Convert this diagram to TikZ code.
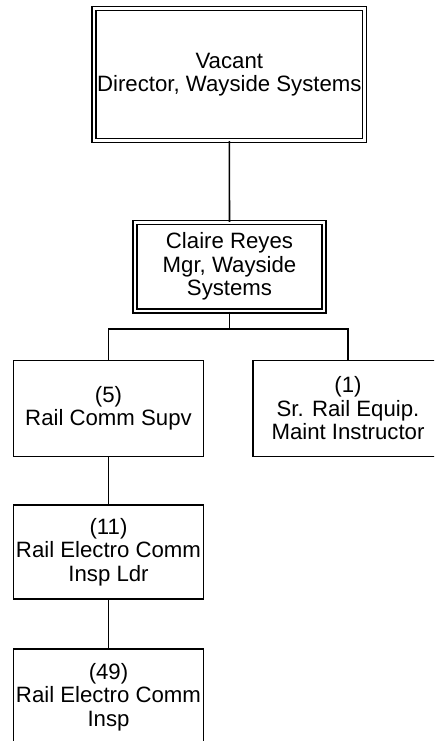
\documentclass[tikz,border=0pt]{standalone}
\usepackage{fontspec}
\setmainfont{Liberation Sans}
\begin{document}
\begin{tikzpicture}[x=1pt,y=-1pt,
  box/.style={draw, line width=1.8pt, align=center, inner sep=0pt,
    font=\fontsize{22.2}{23.5}\selectfont},
  dbox/.style={box, line width=1.4pt, double, double distance=2.5pt},
  link/.style={line width=1.6pt}]
\useasboundingbox (0,0) rectangle (434,741);
\clip (0,0) rectangle (434,741);
\node[dbox, minimum width=270.5pt, minimum height=132pt] (director) at (229.3,74.5)
  {Vacant\\Director, Wayside Systems};
\node[dbox, minimum width=189pt, minimum height=88.5pt] (claire) at (229.5,266.75)
  {Claire Reyes\\Mgr, Wayside\\Systems};
\node[box, minimum width=190pt, minimum height=96pt] (supv) at (108.5,408.5)
  {(5)\\Rail Comm Supv};
\node[box, minimum width=190pt, minimum height=96pt] (instr) at (348,408.5)
  {(1)\\Sr. Rail Equip.\\Maint Instructor};
\node[box, minimum width=190pt, minimum height=94pt] (ldr) at (108.5,552)
  {(11)\\Rail Electro Comm\\Insp Ldr};
\node[box, minimum width=190pt, minimum height=96pt] (insp) at (108.5,697)
  {(49)\\Rail Electro Comm\\Insp};
\coordinate (bus) at (229.5,329);
\draw[link] (director.south) -- (claire.north);
\draw[link] (claire.south) -- (bus) -| (supv.north);
\draw[link] (bus) -| (instr.north);
\draw[link] (supv.south) -- (ldr.north);
\draw[link] (ldr.south) -- (insp.north);
\end{tikzpicture}
\end{document}
